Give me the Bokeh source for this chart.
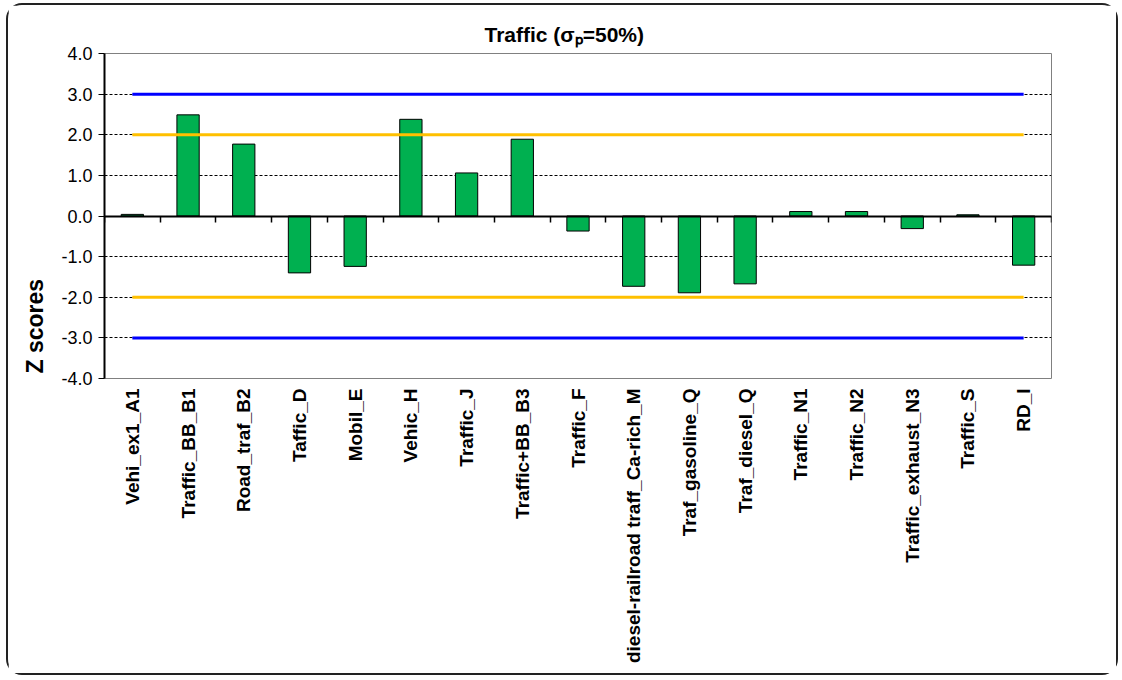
import math
from bokeh.plotting import figure
from bokeh.models import Range1d, LinearAxis, FixedTicker, NumeralTickFormatter, Title
from bokeh.embed import file_html
from bokeh.resources import INLINE

# ---- data ----
categories = [
    "Vehi_ex1_A1", "Traffic_BB_B1", "Road_traf_B2", "Taffic_D", "Mobil_E",
    "Vehic_H", "Traffic_J", "Traffic+BB_B3", "Traffic_F",
    "diesel-railroad traff_Ca-rich_M", "Traf_gasoline_Q", "Traf_diesel_Q",
    "Traffic_N1", "Traffic_N2", "Traffic_exhaust_N3", "Traffic_S", "RD_I",
]
z_scores = [0.04, 2.49, 1.77, -1.40, -1.24, 2.38, 1.06, 1.89, -0.37,
            -1.73, -1.89, -1.67, 0.11, 0.11, -0.31, 0.03, -1.21]
y_ticks = [-4, -3, -2, -1, 0, 1, 2, 3, 4]
warning_limit = 2.0
action_limit = 3.0
title_text = "Traffic (σₚ=50%)"
y_title = "Z scores"

FONT = "Liberation Sans"
n = len(categories)
xs = list(range(1, n + 1))
boundaries = [i + 0.5 for i in range(n + 1)]

p = figure(
    width=1112, height=672,
    x_range=Range1d(0.5, n + 0.5), y_range=Range1d(y_ticks[0], y_ticks[-1]),
    output_backend="svg", toolbar_location=None,
    min_border_left=93, min_border_right=69, min_border_top=48, min_border_bottom=299,
)
p.styles = {"border": "2px solid #222222", "border-radius": "16px",
            "margin-left": "6px", "margin-top": "3px"}
p.background_fill_color = "white"
p.border_fill_color = "white"
p.outline_line_color = "#808080"
p.outline_line_width = 1

# title
p.title.text = title_text
p.title.text_font = FONT
p.title.text_font_style = "bold"
p.title.text_font_size = "21px"
p.title.text_color = "black"
p.title.align = "left"
p.title.offset = 380
p.title.standoff = 15

# y title as a side title, placed low like the original
p.add_layout(Title(text=y_title, align="left", offset=5, standoff=22,
                   text_font=FONT, text_font_style="bold", text_font_size="23px",
                   text_color="black"), "left")

# grid
p.xgrid.visible = False
p.ygrid.grid_line_color = "black"
p.ygrid.grid_line_dash = "3 2"
p.ygrid.grid_line_width = 1

# y axis
p.yaxis.ticker = FixedTicker(ticks=y_ticks)
p.yaxis.formatter = NumeralTickFormatter(format="0.0")
p.yaxis.axis_line_color = "black"
p.yaxis.axis_line_width = 2
p.yaxis.major_tick_out = 6
p.yaxis.major_tick_in = 0
p.yaxis.major_tick_line_color = "black"
p.yaxis.minor_tick_line_color = None
p.yaxis.major_label_text_font = FONT
p.yaxis.major_label_text_font_size = "18px"
p.yaxis.major_label_text_color = "black"
p.yaxis.major_label_standoff = 6

# category label axis (bottom)
p.xaxis.ticker = FixedTicker(ticks=xs)
p.xaxis.major_label_overrides = {x: c for x, c in zip(xs, categories)}
p.xaxis.major_label_orientation = math.pi / 2
p.xaxis.axis_line_color = None
p.xaxis.major_tick_line_color = None
p.xaxis.minor_tick_line_color = None
p.xaxis.major_label_text_font = FONT
p.xaxis.major_label_text_font_style = "bold"
p.xaxis.major_label_text_font_size = "19px"
p.xaxis.major_label_text_color = "black"
p.xaxis.major_label_standoff = 4

# bars
p.vbar(x=xs, top=z_scores, bottom=0, width=0.4,
       fill_color="#00B050", line_color="black", line_width=1)

# limit lines
for level, color in [(action_limit, "#0000FF"), (warning_limit, "#FFC000")]:
    for sign in (1, -1):
        p.line(x=[xs[0], xs[-1]], y=[sign * level, sign * level],
               line_color=color, line_width=3)

# zero axis with category separators
zero_axis = LinearAxis(
    fixed_location=0,
    ticker=FixedTicker(ticks=boundaries),
    axis_line_color="black", axis_line_width=2,
    major_tick_out=6, major_tick_in=0,
    major_tick_line_color="black", major_tick_line_width=1.5,
    minor_tick_line_color=None,
    major_label_text_font_size="0px", major_label_text_alpha=0,
)
p.add_layout(zero_axis, "below")

open("out.html", "w").write(file_html(p, INLINE))
